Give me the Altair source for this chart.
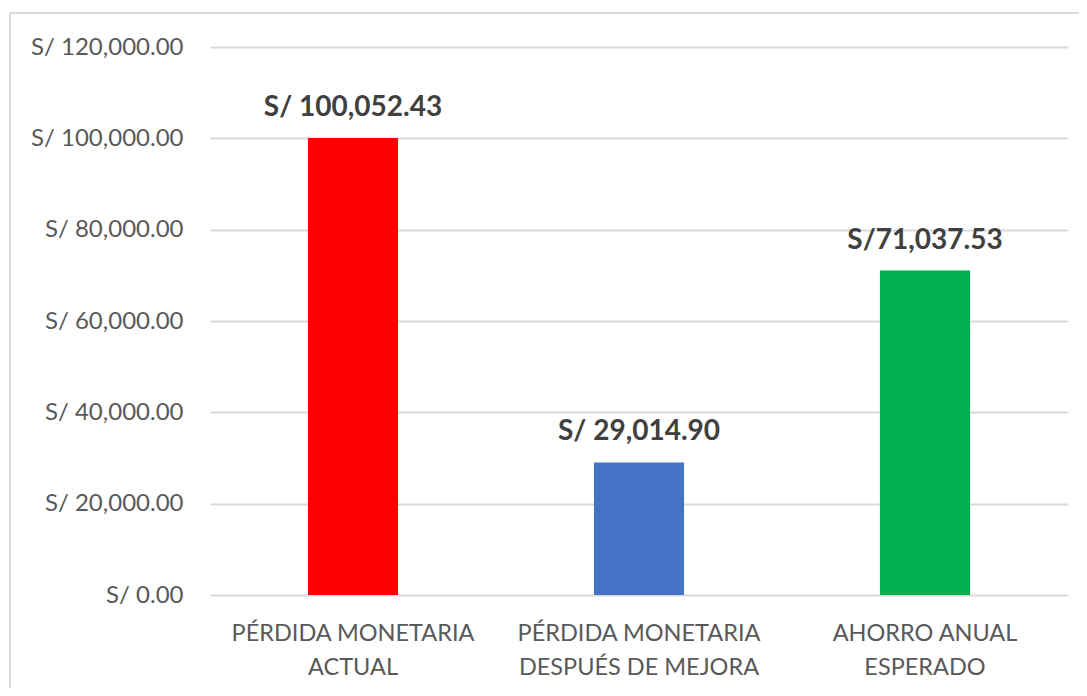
import altair as alt
import pandas as pd

categories = ["PÉRDIDA MONETARIA\nACTUAL", "PÉRDIDA MONETARIA\nDESPUÉS DE MEJORA", "AHORRO ANUAL\nESPERADO"]
values = [100052.43, 29014.90, 71037.53]
value_labels = ["S/ 100,052.43", "S/ 29,014.90", "S/71,037.53"]
colors = ["#FF0000", "#4472C4", "#00B050"]
y_ticks = [0, 20000, 40000, 60000, 80000, 100000, 120000]

df = pd.DataFrame({"cat": categories, "val": values, "lab": value_labels, "col": colors})

FONT = "Lato"

x = alt.X("cat:N", sort=categories, title=None,
          scale=alt.Scale(paddingInner=0.685, paddingOuter=0.3425),
          axis=alt.Axis(labelAngle=0, labelExpr="split(datum.label, '\\n')",
                        labelFont=FONT, labelFontSize=23.5, labelColor="#595959",
                        labelLineHeight=34, labelPadding=26, labelLimit=0,
                        ticks=False, domain=False, grid=False))
y = alt.Y("val:Q", title=None,
          scale=alt.Scale(domain=[0, 120000], nice=False),
          axis=alt.Axis(values=y_ticks, labelExpr="'S/ ' + format(datum.value, ',.2f')",
                        labelFont=FONT, labelFontSize=24, labelColor="#595959",
                        labelPadding=27, labelLimit=0, ticks=False, tickSize=0, domain=False,
                        gridColor="#d9d9d9", gridWidth=2))

bars = alt.Chart(df).mark_bar().encode(
    x=x, y=y, color=alt.Color("col:N", scale=None, legend=None)
)

text = alt.Chart(df).mark_text(
    font=FONT, fontSize=28, fontWeight="bold", color="#404040",
    baseline="alphabetic", dy=-22
).encode(x=alt.X("cat:N", sort=categories), y="val:Q", text="lab:N")

border_df = pd.DataFrame({"k": [0]})
left_border = alt.Chart(border_df).mark_rule(color="#d9d9d9", strokeWidth=2, clip=False).encode(
    x=alt.value(-200), y=alt.value(-34), y2=alt.value(700)
)
top_border = alt.Chart(border_df).mark_rule(color="#d9d9d9", strokeWidth=2, clip=False).encode(
    x=alt.value(-200), x2=alt.value(900), y=alt.value(-34)
)

chart = alt.layer(left_border, top_border, bars, text).properties(
    width=858, height=548,
    autosize=alt.AutoSizeParams(type="none"),
    padding={"left": 202, "top": 39, "right": 11, "bottom": 93},
).configure_view(stroke=None)

chart.save("out.html", embed_options={"renderer": "svg", "actions": False})
